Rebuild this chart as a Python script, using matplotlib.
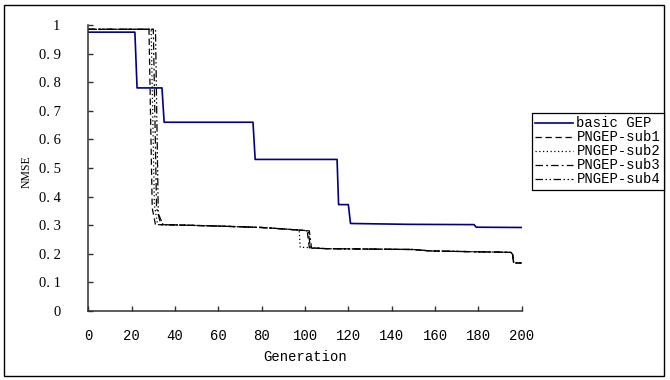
import matplotlib
matplotlib.use("Agg")
import matplotlib.pyplot as plt
from matplotlib.patches import Rectangle

# ---- data ----
gen_basic = [0, 21.5, 22.5, 34, 35, 76, 77, 114.8, 115.5, 120, 121, 148, 178, 179, 200]
nmse_basic = [0.975, 0.975, 0.78, 0.78, 0.66, 0.66, 0.53, 0.53, 0.372, 0.372, 0.306, 0.303, 0.302, 0.293, 0.292]

gen_sub1 = [0, 28, 29.5, 31, 40, 60, 80, 90, 97, 101, 102, 110, 150, 158, 180, 195, 195.8, 196.3, 200]
nmse_sub1 = [0.985, 0.985, 0.36, 0.302, 0.301, 0.297, 0.292, 0.287, 0.283, 0.281, 0.221, 0.218, 0.215, 0.210, 0.207, 0.205, 0.198, 0.168, 0.168]

gen_sub2 = [0, 29, 30.5, 32, 40, 60, 80, 90, 97.3, 97.8, 101, 110, 150, 158, 180, 195, 195.8, 196.3, 200]
nmse_sub2 = [0.985, 0.985, 0.37, 0.302, 0.301, 0.297, 0.292, 0.287, 0.283, 0.223, 0.222, 0.218, 0.215, 0.210, 0.207, 0.205, 0.198, 0.168, 0.168]

gen_sub3 = [0, 30, 31.5, 33.5, 40, 60, 80, 90, 97, 102, 103, 110, 150, 158, 180, 195, 195.8, 196.3, 200]
nmse_sub3 = [0.985, 0.985, 0.36, 0.302, 0.301, 0.297, 0.292, 0.287, 0.283, 0.280, 0.220, 0.218, 0.215, 0.210, 0.207, 0.205, 0.198, 0.168, 0.168]

gen_sub4 = [0, 31, 32.3, 34.5, 40, 60, 80, 90, 97, 101.5, 102.5, 110, 150, 158, 180, 195, 195.8, 196.3, 200]
nmse_sub4 = [0.985, 0.985, 0.34, 0.302, 0.301, 0.297, 0.292, 0.287, 0.283, 0.280, 0.220, 0.218, 0.215, 0.210, 0.207, 0.205, 0.198, 0.168, 0.168]

series_labels = ["basic GEP", "PNGEP-sub1", "PNGEP-sub2", "PNGEP-sub3", "PNGEP-sub4"]
x_ticks = list(range(0, 201, 20))
y_ticks = [0, 0.1, 0.2, 0.3, 0.4, 0.5, 0.6, 0.7, 0.8, 0.9, 1]
y_tick_labels = ["0", "0. 1", "0. 2", "0. 3", "0. 4", "0. 5", "0. 6", "0. 7", "0. 8", "0. 9", "1"]

W, H = 670, 380
fig = plt.figure(figsize=(W / 100, H / 100), dpi=100)
mono = "Liberation Mono"
serif = "Liberation Serif"

ax = fig.add_axes([88.3 / W, 1 - 311 / H, (521.7 - 88.3) / W, (311 - 25) / H])
ax.set_xlim(0, 200)
ax.set_ylim(0, 1)

ax.plot(gen_basic, nmse_basic, color="#000080", lw=1.2, label=series_labels[0])
ax.plot(gen_sub1, nmse_sub1, color="black", lw=0.9, dashes=(5, 3), label=series_labels[1])
ax.plot(gen_sub2, nmse_sub2, color="black", lw=0.9, dashes=(1, 2), label=series_labels[2])
ax.plot(gen_sub3, nmse_sub3, color="black", lw=0.9, dashes=(6, 2.5, 1.5, 2.5), label=series_labels[3])
ax.plot(gen_sub4, nmse_sub4, color="black", lw=0.9, dashes=(6, 2, 1.2, 2, 1.2, 2), label=series_labels[4])

for s in ["top", "right"]:
    ax.spines[s].set_visible(False)
for s in ["left", "bottom"]:
    ax.spines[s].set_color("#303030")
    ax.spines[s].set_linewidth(1.1)

ax.set_xticks(x_ticks)
ax.set_xticklabels([str(t) for t in x_ticks], fontfamily=mono, fontsize=10)
ax.set_yticks(y_ticks)
ax.set_yticklabels(y_tick_labels, fontfamily=serif, fontsize=10.5)
ax.tick_params(axis="both", direction="in", length=3.5, width=1, color="#303030")
ax.tick_params(axis="x", pad=13)
ax.tick_params(axis="y", pad=20)

ax.set_xlabel("Generation", fontfamily=mono, fontsize=10, labelpad=5)
fig.text(27 / W, 1 - 172 / H, "NMSE", rotation=90, ha="center", va="center",
         fontfamily=serif, fontsize=8.5)

leg = ax.legend(loc="upper left", bbox_to_anchor=(532 / W, 1 - 113 / H),
                bbox_transform=fig.transFigure, prop={"family": mono, "size": 10},
                frameon=True, fancybox=False, framealpha=1, edgecolor="black",
                borderpad=0.25, labelspacing=0.0, handlelength=2.7,
                handletextpad=0.25, borderaxespad=0)
leg.get_frame().set_linewidth(0.9)

fig.patches.append(Rectangle((4 / W, 1 - 376 / H), (664 - 4) / W, (376 - 5) / H,
                             transform=fig.transFigure, fill=False,
                             edgecolor="black", lw=1.0, zorder=-1))

fig.savefig("out.png", dpi=100)
